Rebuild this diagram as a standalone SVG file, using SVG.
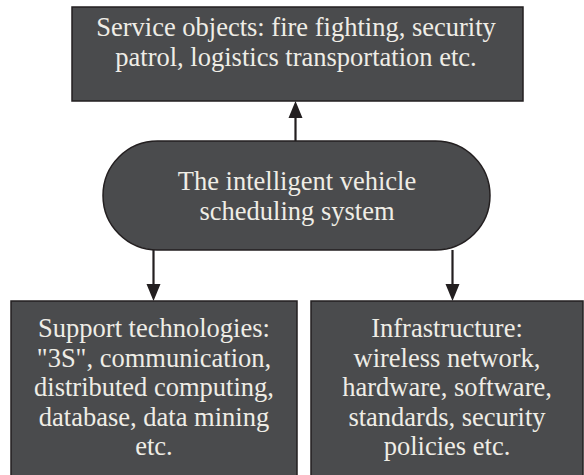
<svg xmlns="http://www.w3.org/2000/svg" width="584" height="475" viewBox="0 0 584 475">
<defs>
<style>
.box{fill:#4a4b4d;stroke:#231f20;stroke-width:1.5}
.t{font-family:"Liberation Serif","Times New Roman",serif;font-size:26.5px;fill:#efede6;text-anchor:middle}
.ln{stroke:#231f20;stroke-width:2.2;fill:none}
.ah{fill:#231f20}
</style>
</defs>
<rect width="584" height="475" fill="#ffffff"/>
<g id="connectors">
<line class="ln" x1="295.5" y1="141" x2="295.5" y2="114"/>
<path class="ah" d="M295.5,101 L302.5,118 L288.5,118 Z"/>
<line class="ln" x1="153.5" y1="250" x2="153.5" y2="286"/>
<path class="ah" d="M153.5,301 L146.5,284 L160.5,284 Z"/>
<line class="ln" x1="452.5" y1="250" x2="452.5" y2="286"/>
<path class="ah" d="M452.5,301 L445.5,284 L459.5,284 Z"/>
</g>
<g id="service">
<rect class="box" x="72" y="7" width="451" height="94"/>
<text class="t" x="296" y="36">Service objects: fire fighting, security</text>
<text class="t" x="296" y="66">patrol, logistics transportation etc.</text>
</g>
<g id="system">
<rect class="box" x="103" y="141" width="387" height="109" rx="54.5" ry="54.5"/>
<text class="t" x="297" y="190">The intelligent vehicle</text>
<text class="t" x="297" y="220">scheduling system</text>
</g>
<g id="support">
<rect class="box" x="11" y="301" width="286" height="180"/>
<text class="t" x="154" y="337">Support technologies:</text>
<text class="t" x="154" y="366.5">"3S", communication,</text>
<text class="t" x="154" y="396">distributed computing,</text>
<text class="t" x="154" y="425.5">database, data mining</text>
<text class="t" x="154" y="455">etc.</text>
</g>
<g id="infrastructure">
<rect class="box" x="311" y="301" width="272" height="180"/>
<text class="t" x="447" y="337">Infrastructure:</text>
<text class="t" x="447" y="366.5">wireless network,</text>
<text class="t" x="447" y="396">hardware, software,</text>
<text class="t" x="447" y="425.5">standards, security</text>
<text class="t" x="447" y="455">policies etc.</text>
</g>
</svg>
